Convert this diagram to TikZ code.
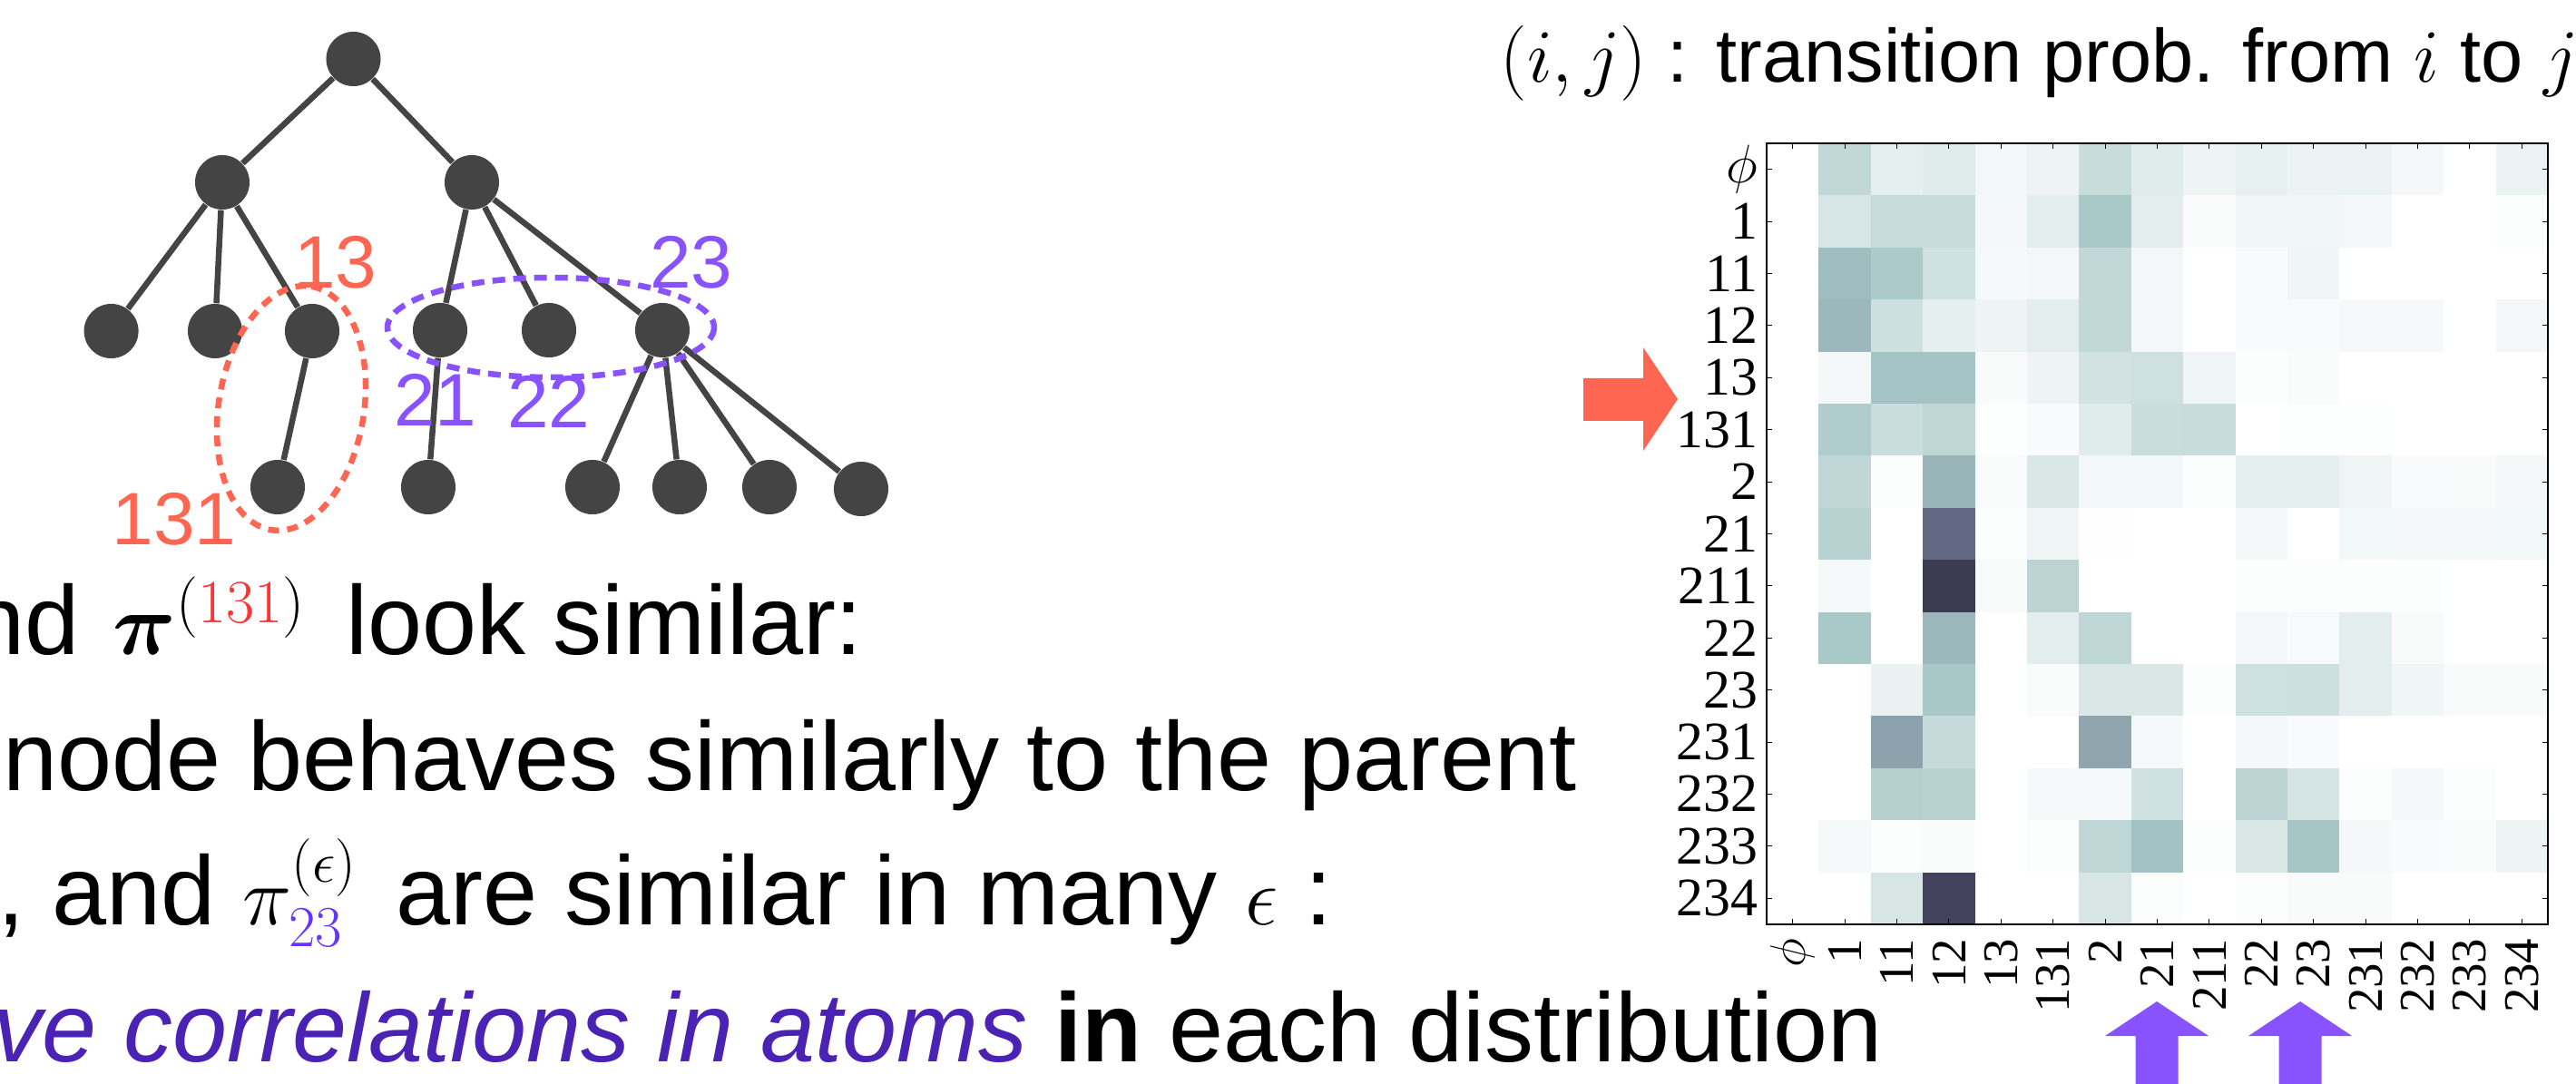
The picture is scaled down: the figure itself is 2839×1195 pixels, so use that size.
\RequirePackage{fix-cm}
\documentclass[tikz,border=0pt]{standalone}
\usepackage{amsmath,bm}
\usepackage{fontspec}
\setmainfont{Liberation Sans}
\newfontfamily\tickfont{Liberation Serif}
\usetikzlibrary{positioning}

\definecolor{treegray}{HTML}{444444}
\definecolor{lblred}{RGB}{255,102,82}
\definecolor{lblpurple}{RGB}{136,82,255}
\definecolor{supred}{RGB}{255,51,51}
\definecolor{subpurple}{RGB}{102,51,255}
\definecolor{italpurple}{RGB}{75,35,180}

\newcommand{\mathsz}{\fontsize{26}{31}\selectfont}
\newcommand{\mathbigsz}{\fontsize{27.5}{33}\selectfont}
% bone_r colour for a value given in thousandths
\newcommand{\bonefill}[1]{%
  \pgfmathsetmacro{\cellX}{1-#1/1000}%
  \pgfmathsetmacro{\cellR}{min(1,ifthenelse(\cellX<0.746, 0.6528*\cellX/0.746, 0.6528+0.3472*(\cellX-0.746)/0.254))}%
  \pgfmathsetmacro{\cellG}{min(1,ifthenelse(\cellX<0.365, 0.3194*\cellX/0.365, ifthenelse(\cellX<0.746, 0.3194+0.4584*(\cellX-0.365)/0.381, 0.7778+0.2222*(\cellX-0.746)/0.254)))}%
  \pgfmathsetmacro{\cellB}{min(1,ifthenelse(\cellX<0.365, 0.4444*\cellX/0.365, 0.4444+0.5556*(\cellX-0.365)/0.635))}%
  \definecolor{cellfill}{rgb}{\cellR,\cellG,\cellB}}

\begin{document}
\begin{tikzpicture}[
      x=0.01cm, y=-0.01cm,
      tn/.style = {circle, fill=treegray, minimum size=0.6cm, inner sep=0pt},
      te/.style = {draw=treegray, line width=0.065cm},
      redring/.style = {draw=lblred, line width=0.065cm, dash pattern=on 0.12cm off 0.09cm},
      purplering/.style = {draw=lblpurple, line width=0.065cm, dash pattern=on 0.14cm off 0.09cm},
      lbl/.style = {font=\fontsize{23.3}{28}\selectfont, inner sep=0pt, anchor=base},
      txt/.style = {font=\fontsize{30.7}{37}\selectfont, inner sep=0pt, anchor=base west},
      ttl/.style = {font=\fontsize{23.6}{28}\selectfont, inner sep=0pt, anchor=base west},
      ylab/.style = {font=\tickfont\fontsize{17}{20}\selectfont, inner sep=0pt, anchor=east},
      xlab/.style = {font=\tickfont\fontsize{15.6}{19}\selectfont, inner sep=0pt, anchor=east, rotate=90},
      tick/.style = {line width=0.3pt},
      frame/.style = {line width=0.45pt},
    ]
    \useasboundingbox (0,0) rectangle (2839,1195);
    \clip (0,0) rectangle (2839,1195);

    \node[tn] (root) at (389.5, 65) {};
    \node[tn] (n1)   at (245, 201) {};
    \node[tn] (n2)   at (520, 201) {};
    \node[tn] (n11)  at (122.6, 365) {};
    \node[tn] (n12)  at (237, 365) {};
    \node[tn] (n13)  at (344, 365) {};
    \node[tn] (n21)  at (485, 364) {};
    \node[tn] (n22)  at (605, 364) {};
    \node[tn] (n23)  at (730, 364) {};
    \node[tn] (n131) at (306, 537) {};
    \node[tn] (n211) at (472, 537) {};
    \node[tn] (n231) at (653, 537) {};
    \node[tn] (n232) at (749, 537) {};
    \node[tn] (n233) at (848, 537) {};
    \node[tn] (n234) at (949, 539) {};
    \draw[te] (root) -- (n1);
    \draw[te] (root) -- (n2);
    \foreach \ch in {n11,n12,n13} \draw[te] (n1) -- (\ch);
    \foreach \ch in {n21,n22,n23} \draw[te] (n2) -- (\ch);
    \draw[te] (n13) -- (n131);
    \draw[te] (n21) -- (n211);
    \foreach \ch in {n231,n232,n233,n234} \draw[te] (n23) -- (\ch);

    \draw[redring, rotate around={80.6:(321,450)}] (321,450) ellipse [x radius=136, y radius=80];
    \draw[purplering] (607,361) ellipse [x radius=180, y radius=55];
    \node[lbl, text=lblred] (l13) at (370,318) {13};
    \node[lbl, text=lblred] (l131) at (192,601) {131};
    \node[lbl, text=lblpurple] (l21) at (480,470) {21};
    \node[lbl, text=lblpurple] (l22) at (605,472) {22};
    \node[lbl, text=lblpurple] (l23) at (762,318) {23};

    \node[txt] (line1) at (-33,722) {nd \hspace{2pt}{\mathbigsz$\bm{\pi}^{(\textcolor{supred}{131})}$}\hspace{4pt} look similar:};
    \node[txt] (line2) at (3,872) {node behaves similarly to the parent};
    \node[txt] (line3) at (-3,1020) {, and {\mathsz$\pi^{(\epsilon)}_{\textcolor{subpurple}{23}}$}\hspace{3.4pt} are similar in many {\mathsz$\epsilon$} :};
    \node[txt] (line4) at (-8,1170) {\textcolor{italpurple}{\itshape ve correlations in atoms} \textbf{in} each distribution};

    \node[ttl] (title) at (1653,91) {$(i,j)$ : transition prob. from $i$ to $j$};

    \foreach \rowvals [count=\r from 0] in {
      {0,175,72,89,37,49,155,89,49,69,57,60,32,0,60},
      {0,118,161,155,32,80,247,80,14,40,40,34,0,0,11},
      {0,283,235,135,29,34,175,34,0,20,43,0,0,0,0},
      {0,301,144,72,49,80,175,34,0,20,20,26,26,0,34},
      {0,32,265,265,17,49,129,138,46,9,14,0,0,0,0},
      {0,227,152,184,6,20,89,152,155,0,6,6,0,0,0},
      {0,181,9,310,14,109,37,37,9,72,72,46,20,17,34},
      {0,204,0,561,9,46,3,0,0,34,0,37,34,34,37},
      {0,29,0,736,17,195,0,0,0,9,9,9,9,0,0},
      {0,247,0,301,0,80,184,0,0,34,23,80,17,0,0},
      {0,0,63,250,0,14,109,109,9,138,144,80,43,17,17},
      {0,0,373,164,0,0,359,29,0,32,20,0,0,0,0},
      {0,0,210,204,0,29,29,138,0,192,121,9,32,9,0},
      {0,29,9,14,0,9,181,270,9,109,256,32,20,14,49},
      {0,0,115,700,0,0,115,11,0,11,17,17,0,0,0}} {
      \foreach \v [count=\c from 0] in \rowvals {
        \bonefill{\v}
        \fill[cellfill] ({1947+57.4*\c},{158+57.4*\r}) rectangle ++(58,58);
      }
    }
    \draw[frame] (1947,158) rectangle (2808,1019);
    \foreach \k in {0,...,14} {
      \draw[tick] ({1975.7+57.4*\k},158) -- ++(0,6);
      \draw[tick] ({1975.7+57.4*\k},1019) -- ++(0,-6);
      \draw[tick] (1947,{186.7+57.4*\k}) -- ++(6,0);
      \draw[tick] (2808,{186.7+57.4*\k}) -- ++(-6,0);
    }
    \foreach \lab [count=\k from 0] in {$\phi$,1,11,12,13,131,2,21,211,22,23,231,232,233,234} {
      \node[ylab] (ylab\k) at (1938,{186.7+57.4*\k}) {\lab};
      \node[xlab] (xlab\k) at ({1975.7+57.4*\k},1034) {\lab};
    }

    \fill[lblred] (1745,417) -- (1811,417) -- (1811,383) -- (1849,440) -- (1811,497) -- (1811,464) -- (1745,464) -- cycle;
    \foreach \ax in {2377,2535}
      \fill[lblpurple] (\ax-23.5,1208) -- (\ax-23.5,1142) -- (\ax-57,1142) -- (\ax,1104) -- (\ax+57,1142) -- (\ax+23.5,1142) -- (\ax+23.5,1208) -- cycle;
  \end{tikzpicture}
\end{document}
